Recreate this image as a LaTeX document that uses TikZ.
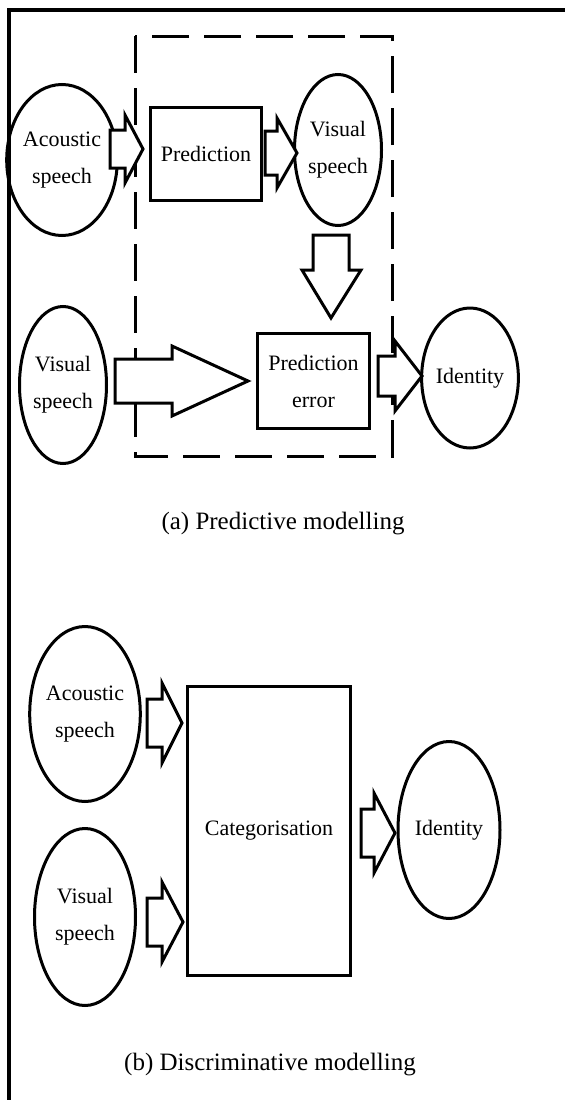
\documentclass[tikz,border=0pt]{standalone}
\usepackage{fontspec}
\setmainfont{Liberation Serif}
\usetikzlibrary{shapes.geometric}
\newcommand\rarr[6]{% tail x, head base x, tip x, centre y, shaft half, head half
  \draw[blockarr] (#1,#4-#5) -- (#2,#4-#5) -- (#2,#4-#6) -- (#3,#4) -- (#2,#4+#6) -- (#2,#4+#5) -- (#1,#4+#5) -- cycle;}
\begin{document}
\begin{tikzpicture}[x=1pt,y=-1pt,
  lbl/.style={font=\fontsize{22}{37}\selectfont, align=center, inner sep=0pt},
  oval/.style={ellipse, draw, line width=3pt, inner sep=0pt, lbl},
  boxnode/.style={rectangle, draw, line width=3pt, inner sep=0pt, lbl},
  blockarr/.style={draw, line width=3pt, line join=miter, fill=white},
  frameline/.style={line width=3.5pt},
  groupbox/.style={line width=3pt, dash pattern=on 37pt off 15pt},
  caption/.style={font=\fontsize{25}{30}\selectfont, inner sep=0pt}]
\useasboundingbox (0,0) rectangle (565,1100);
% frame
\coordinate (fa) at (9,1100);
\coordinate (fb) at (9,10);
\coordinate (fc) at (565,10);
\draw[frameline] (fa) -- (fb) -- (fc);
% (a) predictive modelling
\draw[groupbox] (135,36) rectangle (392,456);
\node[oval, minimum width=89pt, minimum height=151pt] (ac1) at (62,160) {Acoustic\\speech};
\node[boxnode, minimum width=111pt, minimum height=93pt] (pred) at (206,154) {Prediction};
\node[oval, minimum width=87pt, minimum height=151pt] (vs1) at (338,150) {Visual\\speech};
\node[oval, minimum width=87pt, minimum height=157pt] (vs2) at (63,385) {Visual\\speech};
\node[boxnode, minimum width=112pt, minimum height=95pt] (perr) at (313.5,381) {Prediction\\error};
\node[oval, minimum width=88pt, minimum height=140pt] (id1) at (470,378) {Identity};
\rarr{110}{125}{143}{149}{19}{34}
\rarr{265}{277}{297}{153}{22}{35}
\draw[blockarr] (313,235) -- (349,235) -- (349,270) -- (361,270) -- (331,318) -- (302,270) -- (313,270) -- cycle;
\rarr{115}{172}{248}{381}{22}{35}
\rarr{378}{395}{422}{376}{20}{35}
\node[caption] (capa) at (283,524) {(a) Predictive modelling};
% (b) discriminative modelling
\node[oval, minimum width=102pt, minimum height=175pt] (ac2) at (85,714) {Acoustic\\speech};
\node[oval, minimum width=101pt, minimum height=177pt] (vs3) at (85,917) {Visual\\speech};
\node[boxnode, minimum width=163pt, minimum height=289pt] (cat) at (269,831) {Categorisation};
\node[oval, minimum width=102pt, minimum height=177pt] (id2) at (449,830) {Identity};
\rarr{147}{162}{182}{723}{24}{40}
\rarr{147}{162}{183}{922}{24}{40}
\rarr{361}{374}{395}{833}{24}{40}
\node[caption] (capb) at (270,1065) {(b) Discriminative modelling};
\end{tikzpicture}
\end{document}
